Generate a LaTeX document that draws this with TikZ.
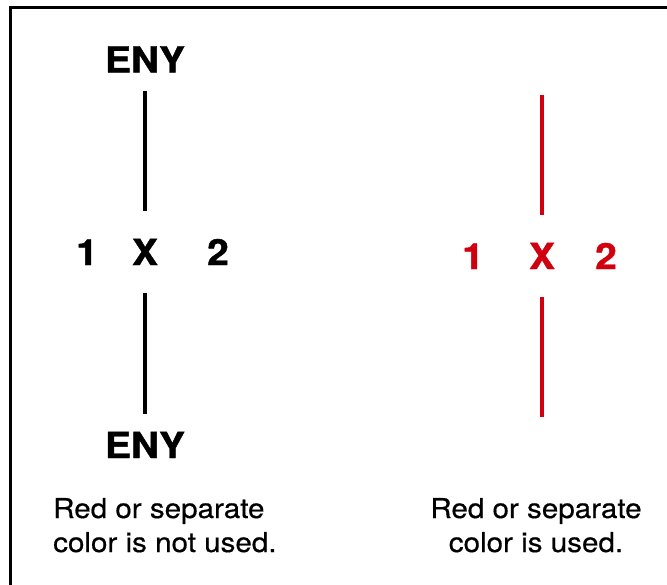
\documentclass[tikz,border=0pt]{standalone}
\usepackage{fontspec}
\setmainfont{TeX Gyre Heros}[FakeStretch=1.08,UprightFeatures={FakeBold=0.5},BoldFeatures={FakeBold=1.2}]
\usetikzlibrary{positioning}
\definecolor{mark red}{RGB}{208,0,14}

\begin{document}
\begin{tikzpicture}[x=1pt,y=-1pt,
 head/.style={font=\fontsize{36}{40}\selectfont\bfseries,inner xsep=0pt,inner ysep=18pt,anchor=base},
 pick/.style={font=\fontsize{36}{40}\selectfont\bfseries,inner xsep=0pt,inner ysep=28pt,anchor=base},
 note/.style={font=\fontsize{27.4}{34}\selectfont,inner sep=0pt,anchor=base},
 bar/.style={line width=4pt}]
\useasboundingbox (0,0) rectangle (667,584);
\draw[line width=3pt] (10.5,7.5) rectangle (680,600);
% left: not used
\node[head] (enyT) at (145,72.5) {ENY};
\node[pick] (xL) at (145,265) {X};
\node[pick] (oneL) at (87,265) {1};
\node[pick] (twoL) at (218,265) {2};
\node[head] (enyB) at (145,458) {ENY};
\draw[bar] (enyT) -- (xL);
\draw[bar] (xL) -- (enyB);
\node[note,align=left,anchor=base west] (noteL) at (53,552) {Red or separate\\color is not used.};
% right: used
\coordinate (rTop) at (542,95);
\coordinate (rBot) at (542,417);
\node[pick,mark red] (xR) at (542,269) {X};
\node[pick,mark red] (oneR) at (473,269) {1};
\node[pick,mark red] (twoR) at (606,269) {2};
\draw[bar,mark red] (rTop) -- (xR);
\draw[bar,mark red] (xR) -- (rBot);
\node[note,align=center] (noteR) at (536,552) {Red or separate\\color is used.};
\end{tikzpicture}
\end{document}
